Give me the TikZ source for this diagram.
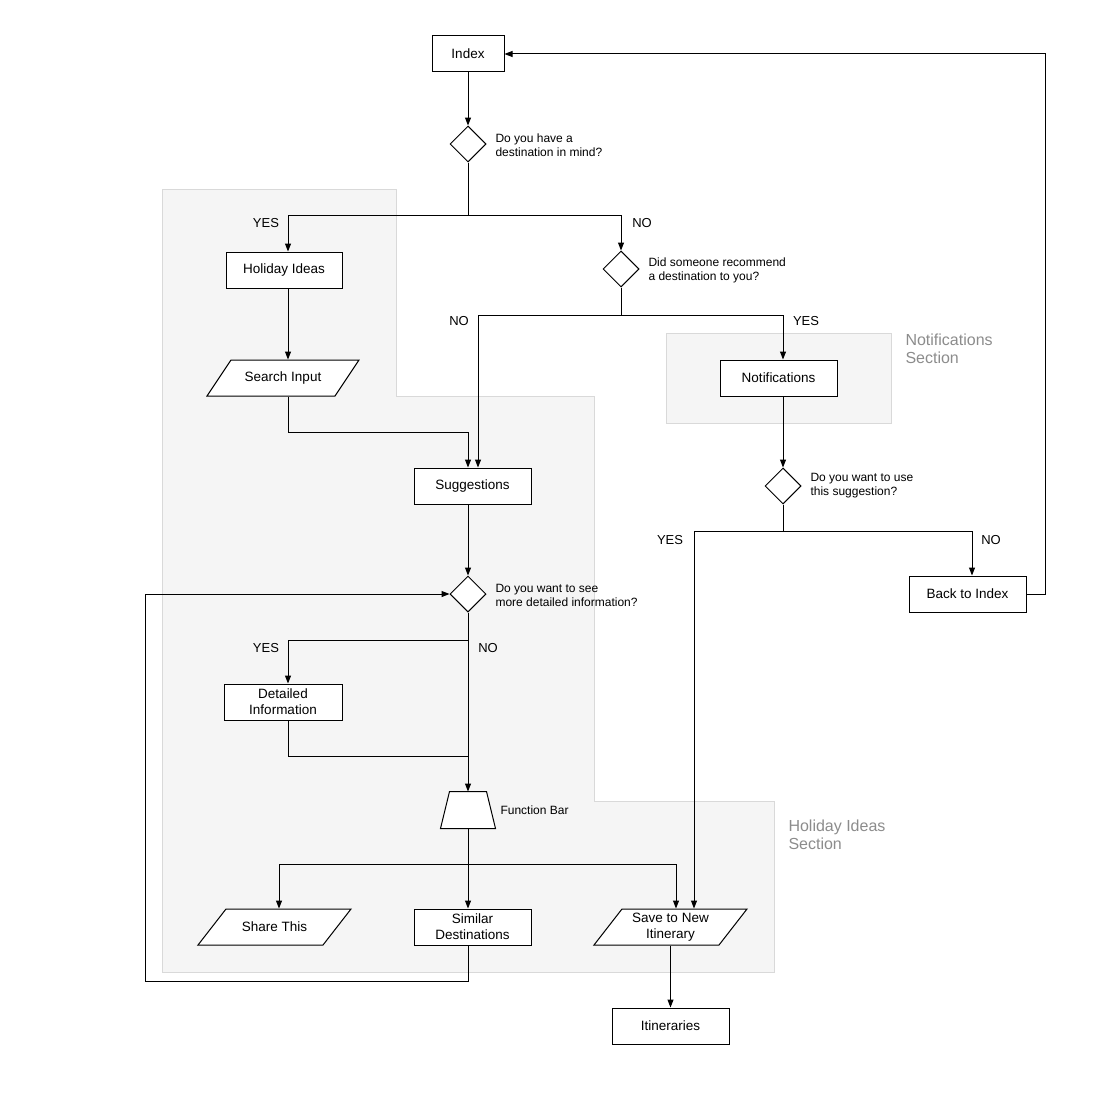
\documentclass[tikz,border=0pt]{standalone}
\usepackage{fontspec}
\setmainfont{Liberation Sans}
\usetikzlibrary{shapes.geometric,arrows.meta}
\begin{document}
\begin{tikzpicture}[x=1pt,y=-1pt,line width=1pt,
 boxtxt/.style={font=\fontsize{13.5}{16}\selectfont},
 box/.style={boxtxt,draw,fill=white,rectangle,minimum width=117pt,minimum height=36pt,inner sep=1pt,align=center},
 dec/.style={draw,fill=white,diamond,minimum width=36pt,minimum height=36pt,inner sep=0pt,aspect=1},
 paratext/.style={boxtxt,rectangle,minimum width=153pt,minimum height=36pt,inner sep=0pt,align=center},
 shapefill/.style={draw,fill=white},
 trapbox/.style={minimum width=54pt,minimum height=36pt,inner sep=0pt},
 qlab/.style={anchor=west,align=left,inner sep=0pt,font=\fontsize{12}{14}\selectfont},
 yn/.style={inner sep=0pt,font=\fontsize{13}{15}\selectfont},
 sec/.style={anchor=north west,align=left,inner sep=0pt,text=black!45,font=\fontsize{16}{18}\selectfont},
 arr/.style={-{Triangle[length=8pt,width=6pt]}},
 region/.style={fill=black!4,draw=black!15,line width=0.8pt}
]
\useasboundingbox (0,0) rectangle (1116,1116);
% section backgrounds
\draw[region] (162,189) -- (396,189) -- (396,396) -- (594,396) -- (594,801) -- (774,801) -- (774,972) -- (162,972) -- cycle;
\draw[region] (666,333) rectangle (891,423);
\node[sec] (secN) at (905,333) {Notifications\\Section};
\node[sec] (secH) at (788,819) {Holiday Ideas\\Section};

% parallelogram outlines (drawn directly)
\draw[shapefill] (231,360) -- (359,360) -- (335,396) -- (207,396) -- cycle;
\draw[shapefill] (226,909) -- (351,909) -- (323,945) -- (198,945) -- cycle;
\draw[shapefill] (622,909) -- (747,909) -- (719,945) -- (594,945) -- cycle;

% nodes
\node[box,minimum width=72pt] (index) at (468,54) {Index};
\node[dec] (d1) at (468,144) {};
\node[qlab] (q1) at (495,145) {Do you have a\\destination in mind?};
\node[box,minimum width=116pt] (holiday) at (284,270) {Holiday Ideas};
\node[paratext,minimum width=152pt] (search) at (283,378) {Search Input};
\node[dec] (d2) at (621,269) {};
\node[qlab] (q2) at (648,270) {Did someone recommend\\a destination to you?};
\node[box] (notif) at (778.5,378) {Notifications};
\node[box] (sugg) at (472.5,486) {Suggestions};
\node[dec] (d3) at (783,486) {};
\node[qlab] (q3) at (810,486) {Do you want to use\\this suggestion?};
\node[box] (back) at (967.5,594) {Back to Index};
\node[dec] (d4) at (468,594) {};
\node[qlab] (q4) at (495,595) {Do you want to see\\more detailed information?};
\node[box,minimum width=118pt] (detail) at (283,702) {Detailed\\Information};
\node[trapbox] (fb) at (468,810) {};
\draw[shapefill] ([xshift=9pt]fb.north west) -- ([xshift=-9pt]fb.north east) -- (fb.south east) -- (fb.south west) -- cycle;
\node[qlab] (fbl) at (500,810) {Function Bar};
\node[paratext] (share) at (274.5,927) {Share This};
\node[box] (similar) at (472.5,927) {Similar\\Destinations};
\node[paratext] (save) at (670.5,927) {Save to New\\Itinerary};
\node[box] (itin) at (670.5,1026) {Itineraries};

% YES / NO labels
\node[yn] (y1) at (266,223) {YES};
\node[yn] (n1) at (642,223) {NO};
\node[yn] (n2) at (459,321) {NO};
\node[yn] (y2) at (806,321) {YES};
\node[yn] (y3) at (670,540) {YES};
\node[yn] (n3) at (991,540) {NO};
\node[yn] (y4) at (266,648) {YES};
\node[yn] (n4) at (488,648) {NO};

% junctions
\coordinate (j1) at (468,215);
\coordinate (j2) at (621,315);
\coordinate (j3) at (783,531);
\coordinate (j4) at (468,640);
\coordinate (j5) at (468,756);
\coordinate (j6) at (468,864);
\coordinate (s1) at (288,432);
\coordinate (r1) at (1045,594);
\coordinate (l1) at (145,981);
\coordinate (l2) at (145,594);

% connectors
\draw[arr] (index.south) -- (d1.north);
\draw (d1.south) -- (j1);
\draw[arr] (j1) -| ([xshift=4pt]holiday.north);
\draw[arr] (j1) -| (d2.north);
\draw[arr] ([xshift=4pt]holiday.south) -- ([xshift=5pt]search.north);
\draw[arr] ([xshift=5pt]search.south) -- (s1) -| ([xshift=-4.5pt]sugg.north);
\draw (d2.south) -- (j2);
\draw[arr] (j2) -| ([xshift=5.5pt]sugg.north);
\draw[arr] (j2) -| ([xshift=4.5pt]notif.north);
\draw[arr] ([xshift=4.5pt]notif.south) -- (d3.north);
\draw (d3.south) -- (j3);
\draw[arr] (j3) -| ([xshift=4.5pt]back.north);
\draw[arr] (j3) -| ([xshift=23.5pt]save.north);
\draw[arr] (back.east) -- (r1) |- (index.east);
\draw[arr] ([xshift=-4.5pt]sugg.south) -- (d4.north);
\draw[arr] (d4.south) -- (fb.north);
\draw[arr] (j4) -| ([xshift=5pt]detail.north);
\draw ([xshift=5pt]detail.south) |- (j5);
\draw (fb.south) -- (j6);
\draw[arr] (j6) -| ([xshift=4.5pt]share.north);
\draw[arr] (j6) -- ([xshift=-4.5pt]similar.north);
\draw[arr] (j6) -| ([xshift=5.5pt]save.north);
\draw[arr] (save.south) -- (itin.north);
\draw[arr] ([xshift=-4.5pt]similar.south) |- (l1) -- (l2) -- (d4.west);
\end{tikzpicture}
\end{document}
